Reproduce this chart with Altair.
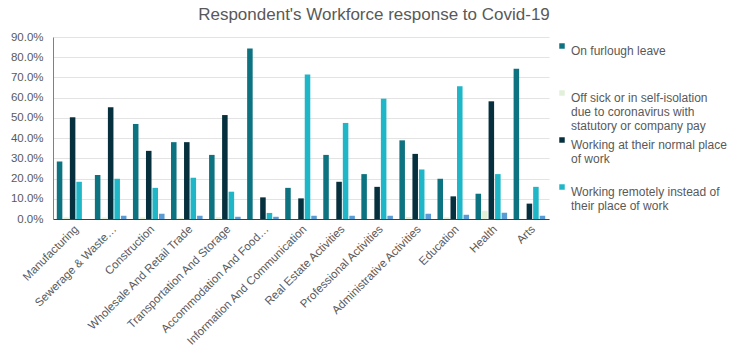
import altair as alt
import pandas as pd

categories = [
    "Manufacturing", "Sewerage & Waste…", "Construction", "Wholesale And Retail Trade",
    "Transportation And Storage", "Accommodation And Food…", "Information And Communication",
    "Real Estate Activities", "Professional Activities", "Administrative Activities",
    "Education", "Health", "Arts",
]
series = [
    "On furlough leave",
    "Off sick or in self-isolation due to coronavirus with statutory or company pay",
    "Working at their normal place of work",
    "Working remotely instead of their place of work",
    "Other",
]
legend_lines = [
    ["On furlough leave", "", ""],
    ["Off sick or in self-isolation", "due to coronavirus with", "statutory or company pay"],
    ["Working at their normal place", "of work", ""],
    ["Working remotely instead of", "their place of work", ""],
]
colors = ["#0E7381", "#E2F0D9", "#06303D", "#1FB7C8", "#5B9BD5"]

furlough = [28.4, 21.7, 47.0, 38.0, 31.7, 84.3, 15.4, 31.7, 22.2, 38.9, 19.9, 12.5, 74.3]
sick =     [0.8, 0.8, 0.8, 0.6, 0.9, 0.0, 0.0, 0.0, 0.0, 1.0, 0.8, 4.1, 0.0]
normal =   [50.3, 55.2, 33.7, 38.0, 51.4, 10.7, 10.2, 18.4, 15.9, 32.2, 11.2, 58.2, 7.6]
remote =   [18.4, 19.9, 15.4, 20.4, 13.5, 3.0, 71.5, 47.5, 59.5, 24.5, 65.7, 22.2, 15.9]
other =    [0.0, 1.6, 2.6, 1.6, 1.1, 1.1, 1.6, 1.6, 1.6, 2.6, 2.1, 3.1, 1.6]

rows = []
for s, vals in zip(series, [furlough, sick, normal, remote, other]):
    for c, v in zip(categories, vals):
        rows.append({"Category": c, "Series": s, "Value": v})
df = pd.DataFrame(rows)

# legend label expression producing multi-line labels
expr = "datum.label"
for name, lines in reversed(list(zip(series[:4], legend_lines))):
    arr = "[" + ",".join("'" + l + "'" for l in lines) + "]"
    expr = f"datum.label == '{name}' ? {arr} : ({expr})"

font = "Liberation Sans"
grey = "#595959"

chart = alt.Chart(df).mark_bar().encode(
    x=alt.X("Category:N", sort=categories,
            scale=alt.Scale(paddingInner=0.17, paddingOuter=0.1),
            axis=alt.Axis(title=None, labelAngle=-45, labelFont=font, labelFontSize=11.5,
                          labelColor=grey, ticks=False, domainColor="#404040",
                          labelPadding=4, labelLimit=300)),
    xOffset=alt.XOffset("Series:N", sort=series, scale=alt.Scale(paddingInner=0.15)),
    y=alt.Y("Value:Q", scale=alt.Scale(domain=[0, 90]),
            axis=alt.Axis(title=None, values=list(range(0, 91, 10)),
                          labelExpr="format(datum.value, '.1f') + '%'",
                          labelFont=font, labelFontSize=11.5, labelColor=grey,
                          ticks=False, domainColor="#808080", gridColor="#e3e3e3",
                          labelPadding=10)),
    color=alt.Color("Series:N", sort=series,
                    scale=alt.Scale(domain=series, range=colors),
                    legend=alt.Legend(values=series[:4], title=None, orient="none",
                                      legendX=503, legendY=3, padding=0,
                                      symbolType="square",
                                      symbolSize=30, symbolStrokeWidth=0,
                                      labelOffset=3,
                                      labelFont=font, labelFontSize=12, labelColor=grey,
                                      labelLimit=400, labelExpr=expr,
                                      labelBaseline="top", rowPadding=2)),
).properties(
    width=496, height=182,
    title=alt.TitleParams("Respondent's Workforce response to Covid-19", font=font,
                          fontSize=17, fontWeight="normal", color=grey,
                          anchor="middle", dx=73, dy=22, offset=16, baseline="alphabetic"),
    autosize=alt.AutoSizeParams(type="none"),
    padding={"left": 53, "top": 37, "right": 198, "bottom": 132},
    background="white",
).configure_view(stroke=None)

chart.save("out.html", embed_options={"renderer": "svg", "actions": False})
